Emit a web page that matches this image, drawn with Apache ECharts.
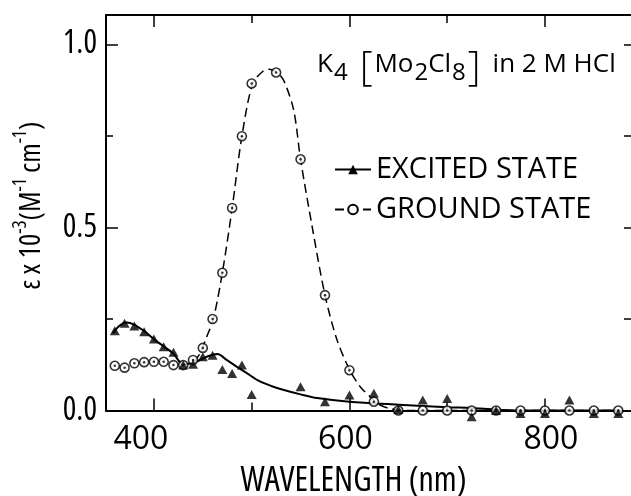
<!DOCTYPE html>
<html><head><meta charset="utf-8">
<script src="https://cdn.jsdelivr.net/npm/echarts@6/dist/echarts.min.js"></script>
<style>html,body{margin:0;padding:0;background:#fff}#c{width:631px;height:496px}</style>
</head><body><div id="c"></div>
<script>
// ---- data (wavelength in nm, epsilon x 10^-3 in M^-1 cm^-1) ----
const groundX = [360,370,380,390,400,410,420,430,440,450,460,470,480,490,500,525,550,575,600,625,650,675,700,725,750,775,800,825,850,875];
const groundY = [0.122,0.117,0.129,0.132,0.133,0.133,0.124,0.124,0.138,0.171,0.250,0.376,0.553,0.749,0.893,0.923,0.686,0.315,0.110,0.024,0,0,0,0,0,0,0,0,0,0];
const excitedX = [360,370,380,390,400,410,420,430,440,450,460,470,480,490,500,550,575,600,625,650,675,700,725,750,775,800,825,850,875];
const excitedY = [0.218,0.238,0.231,0.215,0.195,0.174,0.159,0.124,0.126,0.147,0.151,0.112,0.101,0.124,0.044,0.065,0.024,0.042,0.047,0.003,0.029,0.033,-0.017,0,-0.008,-0.008,0.029,-0.008,-0.008];
// fitted curves
const excitedCurveX = [358,365,372,380,390,400,410,420,430,440,448,456,465,474,485,495,508,520,533,550,567,600,650,700,725,750,775,875];
const excitedCurveY = [0.211,0.232,0.240,0.234,0.217,0.195,0.175,0.155,0.126,0.130,0.139,0.149,0.154,0.139,0.119,0.102,0.080,0.067,0.056,0.044,0.034,0.024,0.016,0.009,0.007,0.002,0,0];
const groundCurveX = [441,447,454,461,470,480,490,501,511,518,526,533,543,550,562,575,587,600,611,621,628,640,660,875];
const groundCurveY = [0.133,0.155,0.201,0.252,0.376,0.552,0.749,0.893,0.925,0.932,0.923,0.900,0.820,0.686,0.500,0.315,0.195,0.112,0.065,0.038,0.020,0.006,0,0];
const xLabelTicks = [400, 600, 800];
const xMinorTicks = [500, 700];
const seriesNames = ['EXCITED STATE', 'GROUND STATE'];

const pts = (xs, ys) => xs.map((x, i) => [x, ys[i]]);
const FAM = "'Open Sans', 'Liberation Sans', sans-serif";
const COND = 'normal condensed';   // font-stretch keyword carried in the weight slot
const X_MIN = 351, X_MAX = 888, Y_MAX = 1.08;

const chart = echarts.init(document.getElementById('c'), null, {renderer: 'canvas'});
const baseX = {type: 'value', min: X_MIN, max: X_MAX, splitLine: {show: false}};
const xTickTxt = {fontFamily: FAM, fontWeight: 'normal', fontSize: 32, color: '#000'};
const yTickTxt = {fontFamily: FAM, fontWeight: COND, fontSize: 32, color: '#000'};
const option = {
  animation: false,
  backgroundColor: '#fff',
  grid: {left: 106, right: 0, top: 15, bottom: 85.5, containLabel: false, outerBoundsMode: 'none'},
  title: {
    left: 312, top: 37,
    text: '{m|K}{s|4}  {b|[}{m|Mo}{s|2}{m|Cl}{s|8}{b|]}  {m|in 2 M HCl}',
    textStyle: {
      fontWeight: 'normal',
      rich: {
        m: {fontFamily: FAM, fontWeight: 'normal', fontSize: 26, color: '#000', lineHeight: 30},
        s: {fontFamily: FAM, fontWeight: 'normal', fontSize: 24, color: '#000', lineHeight: 30, padding: [16, 0, 0, 1]},
        b: {fontFamily: FAM, fontWeight: 300, fontSize: 40, color: '#000', lineHeight: 46, padding: [8, 2, 0, 2]}
      }
    }
  },
  legend: {
    data: seriesNames,
    orient: 'vertical', left: 329, top: 148.5,
    itemWidth: 36, itemHeight: 12, itemGap: 8,
    textStyle: {fontFamily: FAM, fontWeight: 'normal', fontSize: 29, color: '#000', lineHeight: 32}
  },
  xAxis: [
    Object.assign({}, baseX, {
      position: 'bottom',
      axisLine: {show: true, onZero: false, lineStyle: {color: '#000', width: 2}},
      axisTick: {show: true, inside: true, length: 12, lineStyle: {color: '#000', width: 1.5}, customValues: xLabelTicks},
      axisLabel: {show: true, customValues: xLabelTicks, margin: 13, ...xTickTxt,
        formatter: v => v === 400 ? '{a|400}' : (v === 600 ? '{b|600}' : '{c|800}'),
        rich: {a: {padding: [0, 26, 0, 0], ...xTickTxt},
               b: {padding: [0, 8, 0, 0], ...xTickTxt},
               c: {padding: [0, 0, 0, 12], ...xTickTxt}}},
      name: 'WAVELENGTH (nm)', nameLocation: 'middle', nameGap: 54,
      nameTextStyle: {fontFamily: FAM, fontWeight: COND, fontSize: 34, color: '#000', padding: [0, 30, 0, 0]}
    }),
    Object.assign({}, baseX, {
      position: 'bottom',
      axisLine: {show: false, onZero: false},
      axisTick: {show: true, inside: true, length: 8, lineStyle: {color: '#000', width: 1.5}, customValues: xMinorTicks},
      axisLabel: {show: false}
    }),
    Object.assign({}, baseX, {
      position: 'top',
      axisLine: {show: true, onZero: false, lineStyle: {color: '#000', width: 2}},
      axisTick: {show: true, inside: true, length: 12, lineStyle: {color: '#000', width: 1.5}, customValues: xLabelTicks},
      axisLabel: {show: false}
    }),
    Object.assign({}, baseX, {
      position: 'top',
      axisLine: {show: false, onZero: false},
      axisTick: {show: true, inside: true, length: 8, lineStyle: {color: '#000', width: 1.5}, customValues: xMinorTicks},
      axisLabel: {show: false}
    })
  ],
  yAxis: [
    {
      type: 'value', position: 'left', min: 0, max: Y_MAX, interval: 0.5,
      splitLine: {show: false},
      axisLine: {show: true, onZero: false, lineStyle: {color: '#000', width: 2}},
      axisTick: {show: true, inside: true, length: 12, lineStyle: {color: '#000', width: 1.5}},
      minorTick: {show: true, splitNumber: 2, length: 7, lineStyle: {color: '#000', width: 1.5}},
      axisLabel: {show: true, margin: 9, ...yTickTxt, showMaxLabel: false,
        formatter: v => v.toFixed(1)},
      name: '{m|\u03b5 x 10}{p|-3}{m|(M}{p|-1}{m| cm}{p|-1}{m|)}',
      nameLocation: 'middle', nameRotate: 90, nameGap: 55,
      nameTextStyle: {
        padding: [0, 0, 0, 14],
        rich: {
          m: {fontFamily: FAM, fontWeight: COND, fontSize: 29, color: '#000', lineHeight: 32},
          p: {fontFamily: FAM, fontWeight: COND, fontSize: 19, color: '#000', lineHeight: 20, padding: [0, 0, 22, 0]}
        }
      }
    },
    {
      type: 'value', position: 'right', min: 0, max: Y_MAX, interval: 0.5,
      splitLine: {show: false},
      axisLine: {show: false, onZero: false},
      axisTick: {show: true, inside: true, length: 7, lineStyle: {color: '#000', width: 1.5}},
      minorTick: {show: true, splitNumber: 2, length: 7, lineStyle: {color: '#000', width: 1.5}},
      axisLabel: {show: false}
    }
  ],
  series: [
    {
      name: seriesNames[0], type: 'line', data: pts(excitedCurveX, excitedCurveY),
      smooth: 0.3, showSymbol: false, symbol: 'triangle', symbolSize: [10, 9],
      lineStyle: {color: '#000', width: 2}, itemStyle: {color: '#000'}, z: 2, silent: true
    },
    {
      name: seriesNames[1], type: 'line', data: pts(groundCurveX, groundCurveY),
      smooth: 0.3, showSymbol: false, symbol: 'circle', symbolSize: 8,
      lineStyle: {color: '#000', width: 1.5, type: [9, 5]},
      itemStyle: {color: '#fff', borderColor: '#000', borderWidth: 1.5}, z: 2, silent: true
    },
    {
      name: 'ground points', type: 'scatter', data: pts(groundX, groundY), clip: false,
      symbol: 'circle', symbolSize: 9,
      itemStyle: {color: '#fff', borderColor: '#000', borderWidth: 1.6}, z: 3, silent: true
    },
    {
      name: 'ground centers', type: 'scatter', data: pts(groundX, groundY), clip: false,
      symbol: 'circle', symbolSize: 2.5, itemStyle: {color: '#000'}, z: 4, silent: true
    },
    {
      name: 'excited points', type: 'scatter', data: pts(excitedX, excitedY), clip: false,
      symbol: 'triangle', symbolSize: [10, 9], itemStyle: {color: '#000'}, z: 5, silent: true
    }
  ]
};
chart.setOption(option);
</script></body></html>
